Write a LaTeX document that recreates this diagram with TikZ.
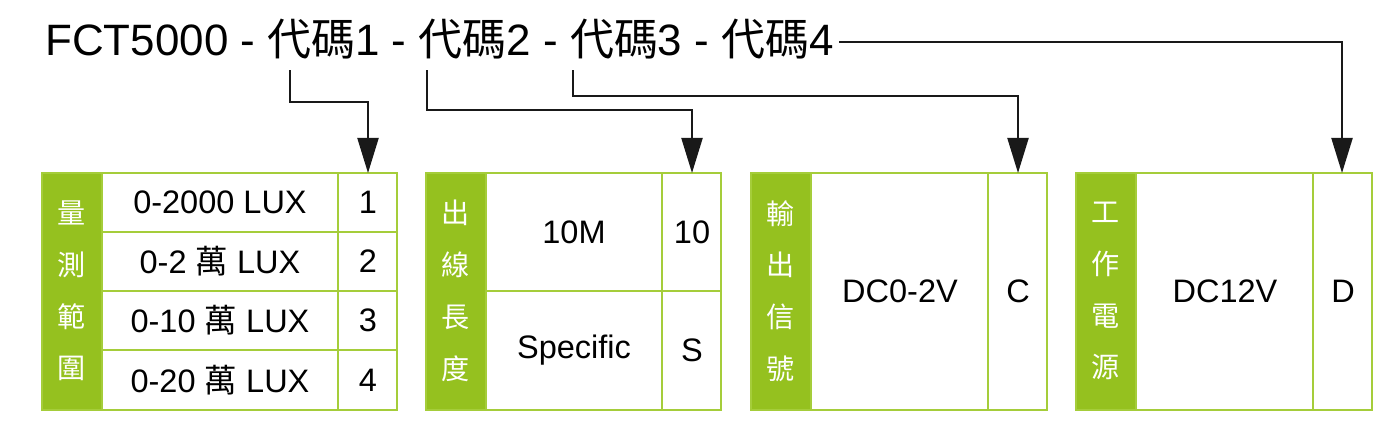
\documentclass[tikz,border=0pt]{standalone}
\usepackage{fontspec}
\setmainfont{Liberation Sans}
\newfontfamily\cjk{Noto Sans CJK TC}
\usetikzlibrary{arrows.meta, positioning}
\definecolor{leafgreen}{HTML}{95C11F}
\definecolor{edgegreen}{HTML}{A5CD3A}

\begin{document}
\begin{tikzpicture}[x=0.02cm, y=-0.02cm,
  link/.style={draw=black!90, line width=1.2pt, -{Triangle[length=20pt, width=12pt]}},
  sidebar/.style={fill=leafgreen, draw=edgegreen, line width=1pt},
  cellbox/.style={draw=edgegreen, line width=1pt, fill=white},
  celltext/.style={font=\fontsize{18.5}{22}\selectfont},
  sidetext/.style={font=\cjk\fontsize{16}{29.5}\selectfont, text=white, align=center},
]
  \useasboundingbox (0,0) rectangle (1398,433);

  % Title
  \node[anchor=base west, inner sep=0pt, font=\fontsize{25}{28}\selectfont] (title) at (45,55)
    {FCT5000 - {\cjk 代碼}1 - {\cjk 代碼}2 - {\cjk 代碼}3 - {\cjk 代碼}4};
  \coordinate (codeA) at (290,70);
  \coordinate (codeB) at (427,70);
  \coordinate (codeC) at (573,70);
  \coordinate (codeD) at ([xshift=3pt]title.east |- 0,42);

  % Box 1: range
  \draw[cellbox] (42,173) rectangle (397,410);
  \draw[sidebar] (42,173) rectangle (102,410);
  \draw[edgegreen, line width=1pt] (338,173) -- (338,410);
  \foreach \y in {232,291,350} \draw[edgegreen, line width=1pt] (102,\y) -- (397,\y);
  \node[sidetext] (rangeTag) at (72,291) {量\\測\\範\\圍};
  \node[celltext] (rangeA) at (220,202) {0-2000 LUX};
  \node[celltext] (rangeB) at (220,261) {0-2 {\cjk 萬} LUX};
  \node[celltext] (rangeC) at (220,320) {0-10 {\cjk 萬} LUX};
  \node[celltext] (rangeD) at (220,380) {0-20 {\cjk 萬} LUX};
  \coordinate (rangeNo) at (368,173);
  \node[celltext] at (368,202) {1};
  \node[celltext] at (368,261) {2};
  \node[celltext] at (368,320) {3};
  \node[celltext] at (368,380) {4};

  % Box 2: cable length
  \draw[cellbox] (426,173) rectangle (721,410);
  \draw[sidebar] (426,173) rectangle (486,410);
  \draw[edgegreen, line width=1pt] (662,173) -- (662,410) (486,291) -- (721,291);
  \node[sidetext] (cableTag) at (456,291) {出\\線\\長\\度};
  \node[celltext] at (574,232) {10M};
  \node[celltext] at (574,350) {Specific};
  \coordinate (cableNo) at (692,173);
  \node[celltext] at (692,232) {10};
  \node[celltext] at (692,350) {S};

  % Box 3: output signal
  \draw[cellbox] (751,173) rectangle (1047,410);
  \draw[sidebar] (751,173) rectangle (811,410);
  \draw[edgegreen, line width=1pt] (988,173) -- (988,410);
  \node[sidetext] (signalTag) at (781,291) {輸\\出\\信\\號};
  \node[celltext] at (900,291) {DC0-2V};
  \coordinate (signalNo) at (1018,173);
  \node[celltext] at (1018,291) {C};

  % Box 4: power
  \draw[cellbox] (1076,173) rectangle (1372,410);
  \draw[sidebar] (1076,173) rectangle (1136,410);
  \draw[edgegreen, line width=1pt] (1313,173) -- (1313,410);
  \node[sidetext] (powerTag) at (1106,291) {工\\作\\電\\源};
  \node[celltext] at (1225,291) {DC12V};
  \coordinate (powerNo) at (1342,173);
  \node[celltext] at (1343,291) {D};

  % Connectors
  \draw[link] (codeA) |- (368,102) -- (rangeNo);
  \draw[link] (codeB) |- (692,110) -- (cableNo);
  \draw[link] (codeC) |- (1018,96) -- (signalNo);
  \draw[link] (codeD) -| (powerNo);
\end{tikzpicture}
\end{document}
